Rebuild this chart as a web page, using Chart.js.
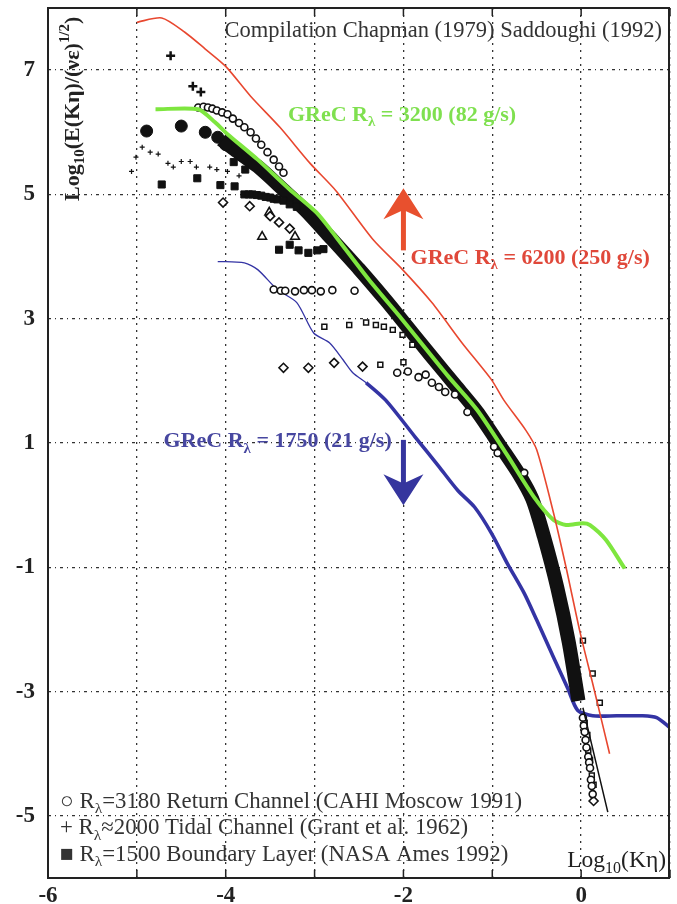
<!DOCTYPE html>
<html>
<head>
<meta charset="utf-8">
<script src="https://cdn.jsdelivr.net/npm/chart.js@4.4.1/dist/chart.umd.min.js"></script>
<style>
html, body { margin: 0; padding: 0; background: #fff; }
</style>
</head>
<body>
<canvas id="spectrumChart" width="677" height="904"></canvas>
<script>
// tick values
const xTicks = [-6, -5, -4, -3, -2, -1, 0, 1];
const xLabelled = [-6, -4, -2, 0];
const yTicks = [-5, -3, -1, 1, 3, 5, 7];

// GReC simulation curves, [log10(K eta), log10(E/(nu eps)^1/2)]
const grecRed = [[-5.0,7.77],[-4.72,7.84],[-4.46,7.61],[-4.23,7.34],[-4.0,7.06],[-3.72,6.58],[-3.39,6.08],[-3.05,5.5],[-2.76,5.06],[-2.34,4.27],[-2.01,3.79],[-1.68,3.26],[-1.34,2.61],[-1.01,2.02],[-0.87,1.69],[-0.62,1.2],[-0.5,0.89],[-0.31,-0.13],[-0.17,-1.0],[-0.01,-2.06],[0.13,-2.87],[0.32,-4.0]];
const grecGreen = [[-4.79,6.37],[-4.31,6.37],[-4.12,6.16],[-3.98,5.97],[-3.64,5.56],[-3.28,5.08],[-2.98,4.71],[-2.76,4.32],[-2.39,3.63],[-2.01,2.98],[-1.5,2.08],[-1.17,1.53],[-0.83,0.8],[-0.53,0.13],[-0.31,-0.24],[-0.17,-0.32],[0.02,-0.29],[0.1,-0.32],[0.28,-0.56],[0.49,-1.02]];
const grecBlue = [[-4.09,3.92],[-3.79,3.9],[-3.64,3.79],[-3.42,3.47],[-3.2,3.26],[-3.01,2.77],[-2.83,2.61],[-2.68,2.34],[-2.57,2.13],[-2.42,1.97],[-2.2,1.69],[-1.87,1.1],[-1.6,0.62],[-1.39,0.24],[-1.2,-0.03],[-1.01,-0.45],[-0.83,-0.94],[-0.64,-1.42],[-0.5,-1.85],[-0.31,-2.45],[-0.15,-2.95],[-0.04,-3.3],[0.13,-3.39],[0.4,-3.39],[0.69,-3.39],[0.85,-3.42],[1.0,-3.58]];

// dense experimental band and the model line at its lower end
const denseBand = [[-4.05,5.88],[-3.9,5.72],[-3.64,5.45],[-3.34,5.06],[-3.1,4.74],[-2.83,4.32],[-2.5,3.8],[-2.2,3.3],[-2.0,2.95],[-1.7,2.42],[-1.4,1.9],[-1.17,1.5],[-0.9,0.93],[-0.7,0.5],[-0.55,0.1],[-0.42,-0.5],[-0.27,-1.32],[-0.14,-2.2],[-0.03,-3.15]];
const modelTail = [[0.02,-3.26],[0.3,-4.94]];

// experimental data sets
const returnChannel = [[-4.31,6.4],[-4.25,6.41],[-4.2,6.4],[-4.15,6.38],[-4.1,6.35],[-4.04,6.32],[-3.98,6.29],[-3.92,6.22],[-3.85,6.15],[-3.79,6.08],[-3.72,6.0],[-3.66,5.9],[-3.6,5.8],[-3.53,5.68],[-3.46,5.56],[-3.4,5.45],[-3.35,5.35],[-3.46,3.47],[-3.38,3.45],[-3.33,3.45],[-3.22,3.44],[-3.12,3.46],[-3.03,3.46],[-2.93,3.44],[-2.8,3.46],[-2.55,3.45],[-2.07,2.13],[-1.95,2.15],[-1.83,2.06],[-1.75,2.1],[-1.68,1.97],[-1.6,1.9],[-1.53,1.82],[-1.42,1.78],[-1.28,1.5],[-0.98,0.94],[-0.94,0.84],[-0.64,0.52],[0.02,-3.42],[0.03,-3.55],[0.04,-3.65],[0.05,-3.78],[0.06,-3.9],[0.08,-4.05],[0.09,-4.14],[0.1,-4.23],[0.11,-4.42],[0.12,-4.52],[0.13,-4.65]];
const tidalLarge = [[-4.62,7.23],[-4.37,6.74],[-4.28,6.65]];
const tidalSmall = [[-5.06,5.37],[-5.01,5.6],[-4.94,5.76],[-4.85,5.68],[-4.76,5.65],[-4.65,5.5],[-4.59,5.44],[-4.5,5.53],[-4.4,5.53],[-4.33,5.44],[-4.18,5.44],[-4.1,5.4],[-3.98,5.37],[-3.85,5.3]];
const boundaryLayer = [[-4.72,5.16],[-4.32,5.26],[-4.06,5.15],[-3.9,5.13],[-3.91,5.52],[-3.78,5.4],[-3.79,5.0],[-3.74,5.0],[-3.7,5.0],[-3.65,4.99],[-3.6,4.98],[-3.55,4.96],[-3.5,4.95],[-3.46,4.93],[-3.42,4.92],[-3.35,4.9],[-3.28,4.84],[-3.2,4.8],[-3.4,4.11],[-3.28,4.19],[-3.18,4.1],[-3.07,4.06],[-2.97,4.1],[-2.9,4.12]];
const filledCircles = [[-4.89,6.02],[-4.5,6.1],[-4.23,6.0],[-4.09,5.92],[-4.0,5.8]];
const openDiamonds = [[-4.03,4.87],[-3.73,4.81],[-3.5,4.65],[-3.4,4.55],[-3.28,4.45],[-3.35,2.21],[-3.07,2.21],[-2.78,2.29],[-2.46,2.23],[0.14,-4.76]];
const openTriangles = [[-3.51,4.71],[-3.59,4.32],[-3.22,4.32]];
const openSquares = [[-2.89,2.87],[-2.61,2.9],[-2.42,2.94],[-2.31,2.9],[-2.22,2.87],[-2.12,2.82],[-2.01,2.74],[-1.9,2.58],[-2.26,2.26],[-2.0,2.3],[0.02,-2.18],[0.13,-2.71],[0.21,-3.18],[0.04,-3.5],[0.07,-3.7],[0.08,-3.95],[0.1,-4.1],[0.12,-4.35],[0.14,-4.5]];

const toXY = arr => arr.map(p => ({x: p[0], y: p[1]}));
const serif = '"Liberation Serif", "DejaVu Serif", serif';

// text with sub/superscripts: parts = [[text, ''|'sub'|'sup'], ...]
function drawRich(ctx, x, y, parts, size, weight, color, align) {
    const widths = parts.map(([t, m]) => {
        ctx.font = weight + ' ' + (m ? size * 0.68 : size) + 'px ' + serif;
        return ctx.measureText(t).width;
    });
    const total = widths.reduce((a, b) => a + b, 0);
    let cx = align === 'right' ? x - total : align === 'center' ? x - total / 2 : x;
    ctx.fillStyle = color;
    ctx.textBaseline = 'middle';
    ctx.textAlign = 'left';
    parts.forEach(([t, m], i) => {
        ctx.font = weight + ' ' + (m ? size * 0.68 : size) + 'px ' + serif;
        const dy = m === 'sub' ? size * 0.32 : m === 'sup' ? -size * 0.38 : 0;
        ctx.fillText(t, cx, y + dy);
        cx += widths[i];
    });
}

function drawArrow(ctx, x, yFrom, yTip, color) {
    const dir = yTip < yFrom ? -1 : 1;
    const headLen = 31, halfW = 20;
    ctx.save();
    ctx.fillStyle = color;
    ctx.strokeStyle = color;
    ctx.lineWidth = 5;
    ctx.beginPath();
    ctx.moveTo(x, yFrom);
    ctx.lineTo(x, yTip - dir * headLen * 0.6);
    ctx.stroke();
    ctx.beginPath();
    ctx.moveTo(x, yTip);
    ctx.lineTo(x + halfW, yTip - dir * headLen);
    ctx.lineTo(x, yTip - dir * headLen * 0.7);
    ctx.lineTo(x - halfW, yTip - dir * headLen);
    ctx.closePath();
    ctx.fill();
    ctx.restore();
}

const overlay = {
    id: 'overlay',
    afterDatasetsDraw(chart) {
        const {ctx, chartArea: a, scales: {x, y}} = chart;
        ctx.save();
        // frame
        ctx.strokeStyle = '#222';
        ctx.lineWidth = 2;
        ctx.strokeRect(a.left, a.top, a.right - a.left - 1, a.bottom - a.top);
        // inner ticks top and bottom
        ctx.lineWidth = 1.5;
        xTicks.forEach(v => {
            const px = x.getPixelForValue(v);
            ctx.beginPath();
            ctx.moveTo(px, a.bottom); ctx.lineTo(px, a.bottom - 8);
            ctx.moveTo(px, a.top); ctx.lineTo(px, a.top + 8);
            ctx.stroke();
        });

        // arrows
        drawArrow(ctx, x.getPixelForValue(-2.0), y.getPixelForValue(4.1), y.getPixelForValue(5.1), '#e8502e');
        drawArrow(ctx, x.getPixelForValue(-2.0), y.getPixelForValue(1.05), y.getPixelForValue(0.0), '#35359e');

        // curve labels
        const R = ['R', ''], lam = ['λ', 'sub'];
        drawRich(ctx, x.getPixelForValue(-3.3), y.getPixelForValue(6.28), [['GReC ', ''], R, lam, [' = 3200 (82 g/s)', '']], 22, 'bold', '#7fe04f', 'left');
        drawRich(ctx, x.getPixelForValue(-1.92), y.getPixelForValue(3.97), [['GReC ', ''], R, lam, [' = 6200 (250 g/s)', '']], 22, 'bold', '#e0483a', 'left');
        drawRich(ctx, x.getPixelForValue(-4.7), y.getPixelForValue(1.02), [['GReC ', ''], R, lam, [' = 1750 (21 g/s)', '']], 22, 'bold', '#4747a0', 'left');

        // title
        drawRich(ctx, a.right - 8, 31, [['Compilation Chapman (1979) Saddoughi (1992)', '']], 22.5, 'normal', '#333', 'right');

        // x axis title
        drawRich(ctx, a.right - 4, 861, [['Log', ''], ['10', 'sub'], ['(Kη)', '']], 23.5, 'normal', '#222', 'right');

        // legend
        const legendRows = [
            [['○ ', ''], R, lam, ['=3180 Return Channel (CAHI Moscow 1991)', '']],
            [['+ ', ''], R, lam, ['≈2000 Tidal Channel (Grant et al. 1962)', '']],
            [['■ ', ''], R, lam, ['=1500 Boundary Layer (NASA Ames 1992)', '']]
        ];
        legendRows.forEach((row, i) => drawRich(ctx, 60, 802 + i * 26.5, row, 22.8, 'normal', '#333', 'left'));

        // y axis title, rotated, inside the plot
        ctx.translate(73, 201);
        ctx.rotate(-Math.PI / 2);
        drawRich(ctx, 0, 0, [['Log', ''], ['10', 'sub'], ['(E(Kη)/(νε)', ''], ['1/2', 'sup'], [')', '']], 22, 'bold', '#222', 'left');
        ctx.restore();
    }
};

const lineStyle = (data, color, width) => ({
    type: 'scatter',
    data: toXY(data),
    showLine: true,
    borderColor: color,
    borderWidth: width,
    pointRadius: 0,
    tension: 0.25,
    fill: false
});

const markerStyle = (data, style, radius, fillColor, lineWidth) => ({
    type: 'scatter',
    data: toXY(data),
    pointStyle: style,
    pointRadius: radius,
    pointBackgroundColor: fillColor,
    pointBorderColor: '#111',
    pointBorderWidth: lineWidth
});

const noPadding = s => { s.paddingTop = 0; s.paddingBottom = 0; s.paddingLeft = 0; s.paddingRight = 0; };

const chart = new Chart(document.getElementById('spectrumChart'), {
    type: 'scatter',
    data: {
        datasets: [
            lineStyle(grecRed, '#e8472f', 1.6),
            lineStyle(grecGreen, '#7ee63f', 4),
            lineStyle(modelTail, '#111', 1.5),
            markerStyle(returnChannel, 'circle', 3.5, '#fff', 1.6),
            markerStyle(openSquares, 'rect', 3.5, '#fff', 1.5),
            markerStyle(openDiamonds, 'rectRot', 4.5, '#fff', 1.6),
            markerStyle(openTriangles, 'triangle', 5, '#fff', 1.6),
            markerStyle(tidalLarge, 'cross', 4.5, '#111', 2.5),
            markerStyle(tidalSmall, 'cross', 2.5, '#111', 1.2),
            markerStyle(boundaryLayer, 'rect', 5, '#111', 1),
            markerStyle(filledCircles, 'circle', 6, '#111', 1),
            lineStyle(denseBand, '#111', 14),
            Object.assign(lineStyle(grecBlue, '#3434a4', 3), {
                segment: {borderWidth: ctx => ctx.p0.parsed.x < -2.45 ? 1.3 : 3.6}
            })
        ]
    },
    options: {
        responsive: false,
        animation: false,
        layout: {padding: {top: 8, right: 0, left: 0, bottom: 0}},
        plugins: {legend: {display: false}, tooltip: {enabled: false}},
        scales: {
            x: {
                type: 'linear',
                min: -6,
                max: 1,
                afterBuildTicks: s => { s.ticks = xTicks.map(v => ({value: v})); },
                afterFit: s => { s.height = 26; noPadding(s); },
                grid: {color: '#333', lineWidth: 1.3, drawTicks: false},
                border: {display: false, dash: [2, 5]},
                ticks: {
                    padding: 4,
                    color: '#222',
                    font: {family: serif, size: 23, weight: 'bold'},
                    callback: v => xLabelled.includes(v) ? String(v) : ''
                }
            },
            y: {
                type: 'linear',
                min: -6,
                max: 8,
                afterBuildTicks: s => { s.ticks = yTicks.map(v => ({value: v})); },
                afterFit: s => { s.width = 48; noPadding(s); },
                grid: {color: '#333', lineWidth: 1.3, drawTicks: false},
                border: {display: false, dash: [3, 4, 1, 4]},
                ticks: {
                    padding: 13,
                    color: '#222',
                    font: {family: serif, size: 23, weight: 'bold'}
                }
            }
        }
    },
    plugins: [overlay]
});
</script>
</body>
</html>
